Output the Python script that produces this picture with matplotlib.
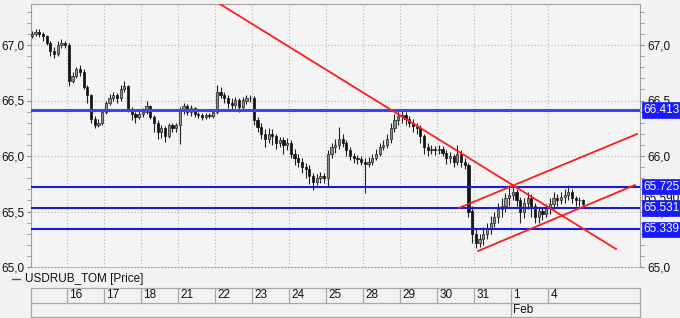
import matplotlib
matplotlib.use("Agg")
import matplotlib.pyplot as plt
import matplotlib.transforms as mtransforms
from matplotlib.ticker import MultipleLocator, FuncFormatter
import numpy as np

plt.rcParams['font.family'] = ['Liberation Sans', 'DejaVu Sans']

# ---------------- data ----------------
day_labels = ["", "16", "17", "18", "21", "22", "23", "24", "25", "28", "29", "30", "31", "1", "4"]
month_label = "Feb"
month_start_day = 13
bars_per_day = 10
first_open = 67.08

close = [
    67.10, 67.12, 67.10, 67.08, 67.02, 66.95, 66.92, 67.00, 67.02, 67.00,
    66.68, 66.72, 66.78, 66.76, 66.62, 66.55, 66.33, 66.28, 66.30, 66.40,
    66.48, 66.52, 66.55, 66.52, 66.60, 66.63, 66.42, 66.38, 66.35, 66.38,
    66.40, 66.45, 66.35, 66.30, 66.22, 66.25, 66.18, 66.28, 66.25, 66.28,
    66.42, 66.45, 66.40, 66.43, 66.38, 66.37, 66.35, 66.37, 66.36, 66.40,
    66.58, 66.55, 66.52, 66.48, 66.46, 66.50, 66.44, 66.50, 66.52, 66.52,
    66.32, 66.26, 66.20, 66.15, 66.20, 66.18, 66.12, 66.14, 66.10, 66.12,
    66.02, 65.98, 65.95, 65.90, 65.88, 65.82, 65.77, 65.80, 65.82, 65.80,
    66.02, 66.08, 66.10, 66.15, 66.12, 66.05, 66.00, 65.98, 65.97, 65.95,
    65.93, 65.95, 65.98, 66.02, 66.08, 66.10, 66.15, 66.25, 66.32, 66.36,
    66.37, 66.33, 66.30, 66.27, 66.25, 66.18, 66.08, 66.05, 66.06, 66.05,
    66.06, 66.03, 65.98, 66.00, 65.95, 66.02, 65.95, 65.92, 65.50, 65.30,
    65.22, 65.25, 65.30, 65.35, 65.40, 65.45, 65.52, 65.55, 65.62, 65.65,
    65.68, 65.60, 65.50, 65.58, 65.62, 65.55, 65.45, 65.50, 65.48, 65.53,
    65.57, 65.62, 65.60, 65.63, 65.65, 65.68, 65.62, 65.60, 65.60, 65.57,
]
high = [
    67.13, 67.14, 67.14, 67.12, 67.09, 67.04, 66.98, 67.04, 67.05, 67.04,
    67.02, 66.76, 66.80, 66.82, 66.78, 66.64, 66.56, 66.36, 66.33, 66.42,
    66.50, 66.56, 66.58, 66.57, 66.64, 66.68, 66.64, 66.44, 66.40, 66.41,
    66.43, 66.50, 66.46, 66.37, 66.32, 66.28, 66.27, 66.30, 66.30, 66.30,
    66.44, 66.48, 66.47, 66.46, 66.44, 66.40, 66.39, 66.39, 66.39, 66.42,
    66.64, 66.62, 66.58, 66.55, 66.52, 66.53, 66.52, 66.53, 66.55, 66.55,
    66.54, 66.35, 66.30, 66.24, 66.25, 66.24, 66.20, 66.17, 66.17, 66.16,
    66.14, 66.06, 66.02, 65.98, 65.94, 65.92, 65.85, 65.84, 65.86, 65.85,
    66.05, 66.12, 66.15, 66.26, 66.20, 66.14, 66.08, 66.03, 66.01, 66.00,
    65.98, 65.99, 66.02, 66.06, 66.12, 66.14, 66.20, 66.30, 66.38, 66.42,
    66.42, 66.40, 66.36, 66.33, 66.30, 66.28, 66.20, 66.12, 66.10, 66.09,
    66.10, 66.09, 66.05, 66.04, 66.02, 66.10, 66.05, 65.98, 65.94, 65.55,
    65.35, 65.30, 65.36, 65.40, 65.46, 65.50, 65.58, 65.62, 65.67, 65.74,
    65.74, 65.70, 65.63, 65.62, 65.68, 65.66, 65.58, 65.54, 65.53, 65.57,
    65.62, 65.68, 65.66, 65.68, 65.70, 65.74, 65.70, 65.64, 65.63, 65.61,
]
low = [
    67.06, 67.08, 67.07, 67.04, 67.00, 66.90, 66.88, 66.90, 66.97, 66.97,
    66.63, 66.66, 66.70, 66.72, 66.60, 66.48, 66.30, 66.25, 66.26, 66.28,
    66.38, 66.46, 66.50, 66.48, 66.50, 66.58, 66.40, 66.32, 66.30, 66.33,
    66.35, 66.38, 66.33, 66.22, 66.15, 66.16, 66.13, 66.16, 66.22, 66.22,
    66.11, 66.38, 66.37, 66.36, 66.35, 66.34, 66.32, 66.33, 66.34, 66.34,
    66.38, 66.52, 66.48, 66.43, 66.42, 66.43, 66.40, 66.42, 66.47, 66.49,
    66.28, 66.22, 66.15, 66.08, 66.12, 66.10, 66.06, 66.08, 66.02, 66.05,
    65.98, 65.92, 65.90, 65.85, 65.80, 65.75, 65.69, 65.74, 65.76, 65.76,
    65.72, 65.98, 66.03, 66.06, 66.08, 66.00, 65.96, 65.94, 65.93, 65.92,
    65.67, 65.90, 65.92, 65.96, 66.00, 66.05, 66.07, 66.12, 66.22, 66.28,
    66.30, 66.28, 66.26, 66.22, 66.20, 66.12, 66.02, 66.00, 66.02, 66.01,
    66.02, 66.00, 65.93, 65.94, 65.90, 65.92, 65.90, 65.88, 65.45, 65.22,
    65.17, 65.18, 65.20, 65.25, 65.30, 65.36, 65.40, 65.45, 65.50, 65.55,
    65.60, 65.55, 65.40, 65.44, 65.52, 65.45, 65.40, 65.40, 65.42, 65.45,
    65.48, 65.52, 65.55, 65.57, 65.58, 65.60, 65.58, 65.55, 65.55, 65.53,
]

level_values = [66.413, 65.725, 65.531, 65.339]
level_labels = ["66.413", "65.725", "65.531", "65.339"]
last_price_label = "65,590"
last_price_value = 65.62

# trend lines: (x0, y0, x1, y1) in day-index / price units
trend_lines = [
    (5.135, 67.369, 15.838, 65.162),
    (11.595, 65.532, 16.405, 66.198),
    (12.108, 65.144, 16.350, 65.739),
]

legend_text = "USDRUB_TOM [Price]"

# ---------------- figure ----------------
W, H = 680, 318
fig = plt.figure(figsize=(W / 100, H / 100), dpi=100)
bg = '#f2f2f2'
fig.patch.set_facecolor(bg)

def px_rect(x0, y0, x1, y1):
    return [x0 / W, 1 - y1 / H, (x1 - x0) / W, (y1 - y0) / H]

ax = fig.add_axes(px_rect(31, 4, 640, 267))
ax.set_facecolor('#f4f4f4')

xmin = 1 / 37
xmax = (640 - 30) / 37
ymin, ymax = 65.0, 65.0 + 263 / 111
ax.set_xlim(xmin, xmax)
ax.set_ylim(ymin, ymax)

# candles
n = len(close)
opens = [first_open] + close[:-1]
xs = np.array([i // bars_per_day + ((i % bars_per_day) + 0.5) / bars_per_day for i in range(n)])
o = np.array(opens); c = np.array(close); h = np.array(high); l = np.array(low)
ax.vlines(xs, l, h, color='#222222', lw=0.8, zorder=3)
up = c >= o
bw = 0.06
body_bottom = np.minimum(o, c)
body_h = np.maximum(np.abs(c - o), 0.004)
ax.bar(xs[up], body_h[up], bottom=body_bottom[up], width=bw, color='#8c8c8c',
       edgecolor='#222222', linewidth=0.5, zorder=4)
ax.bar(xs[~up], body_h[~up], bottom=body_bottom[~up], width=bw, color='#111111',
       edgecolor='#111111', linewidth=0.5, zorder=4)

# grid
grid_style = dict(color='#b4b4b4', lw=0.8, ls=(0, (1, 2)), zorder=1)
for d in range(1, len(day_labels)):
    ax.axvline(d, **grid_style)
for yv in [65.5, 66.0, 66.5, 67.0]:
    ax.axhline(yv, **grid_style)

# horizontal levels
for i, v in enumerate(level_values):
    if i == 0:
        ax.axhline(v, color='#4040f4', lw=2.2, zorder=5)
    else:
        ax.axhline(v, color='#1a1ad8', lw=1.5, zorder=5)

# trend lines
for (x0, y0, x1, y1) in trend_lines:
    ax.plot([x0, x1], [y0, y1], color='#ff1c1c', lw=1.3, zorder=6, clip_on=True)

# axes styling
for s in ax.spines.values():
    s.set_color('#a0a0a0')
    s.set_linewidth(0.8)
ax.spines['bottom'].set_linestyle((0, (1, 2)))
ax.set_xticks([])
ax.yaxis.set_major_locator(MultipleLocator(0.5))
ax.yaxis.set_minor_locator(MultipleLocator(0.1))
ax.yaxis.set_major_formatter(FuncFormatter(lambda v, p: f"{v:.1f}".replace('.', ',')))
ax.tick_params(axis='y', which='both', left=True, right=True, labelleft=True, labelright=True,
               color='#909090', labelsize=8.5, labelcolor='#111111')
ax.tick_params(axis='y', which='major', length=3, pad=2)
ax.tick_params(axis='y', which='minor', length=3)

# last price label and level labels on the right
trans = mtransforms.blended_transform_factory(ax.transAxes, ax.transData)
ax.text(1.006, last_price_value, last_price_label, transform=trans, ha='left', va='center',
        fontsize=8.5, color='#111111', clip_on=False, zorder=7,
        bbox=dict(boxstyle='square,pad=0.15', facecolor='#f4f4f4', edgecolor='#888888', lw=0.6))
for v, lab in zip(level_values, level_labels):
    ax.text(1.006, v, lab, transform=trans, ha='left', va='center', fontsize=8.5,
            color='white', clip_on=False, zorder=8,
            bbox=dict(boxstyle='square,pad=0.15', facecolor='#1a1aff', edgecolor='#1a1aff', lw=0.5))

# legend text
fig.add_artist(plt.Line2D([12 / W, 20 / W], [1 - 279 / H, 1 - 279 / H], color='#555555', lw=1.0))
fig.text(25 / W, 1 - 279 / H, legend_text, ha='left', va='center', fontsize=8.5, color='#111111')

# date axis box
dax = fig.add_axes(px_rect(31, 288, 640, 317))
dax.set_facecolor(bg)
dax.set_xlim(xmin, xmax)
dax.set_ylim(0, 2)
dax.set_xticks([]); dax.set_yticks([])
for s in dax.spines.values():
    s.set_color('#a8a8a8')
    s.set_linewidth(0.9)
dax.axhline(1, color='#a8a8a8', lw=0.9)
for d in range(1, len(day_labels)):
    dax.plot([d, d], [1, 2], color='#a8a8a8', lw=0.9)
    dax.text(d + 0.06, 1.5, day_labels[d], ha='left', va='center', fontsize=8.5, color='#111111')
dax.plot([month_start_day, month_start_day], [0, 1], color='#a8a8a8', lw=0.9)
dax.text(month_start_day + 0.06, 0.5, month_label, ha='left', va='center', fontsize=8.5, color='#111111')

fig.savefig('out.png', dpi=100, facecolor=bg)
